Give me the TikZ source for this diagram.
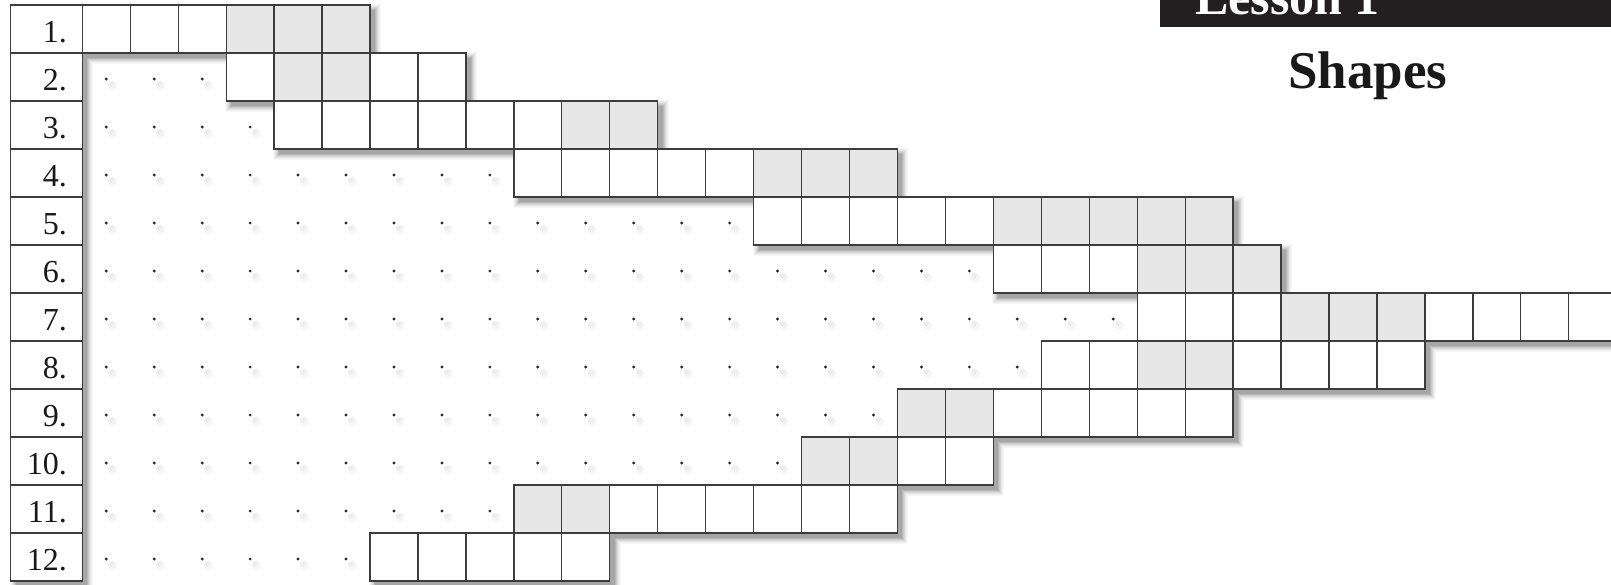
\documentclass[tikz,border=0pt]{standalone}
\usepackage{fontspec}
\setmainfont{Liberation Serif}
\definecolor{cellgray}{RGB}{230,231,230}
\definecolor{linegray}{RGB}{60,60,60}
\definecolor{bannerblack}{RGB}{35,31,32}
\tikzset{
  cellline/.style={draw=linegray, line width=1.3pt},
  lbl/.style={inner sep=0pt, font=\fontsize{32}{32}\selectfont, text=black!90},
  dotmark/.style={fill=black!85},
}
\newcommand{\cw}{47.95}
\newcommand{\rh}{48}
\begin{document}
\begin{tikzpicture}[x=1pt,y=-1pt]
\useasboundingbox (0,0) rectangle (1611,584);
\clip (0,0) rectangle (1611,584);
% shadows
\foreach \k/\c in {6/3,5/6,4/10,3/15,2/21,1/28,0/35} {
  \fill[black!\c] ({10.7-\k+5},{5-\k+5}) rectangle ({82.3+\k+5},{581+\k+5});
  \foreach \r/\a/\b in {1/0/5,2/3/7,3/4/11,4/9/16,5/14/23,6/19/24,7/22/33,8/20/27,9/17/23,10/15/18,11/9/16,12/6/10}
    \fill[black!\c] ({82.3+\cw*\a-\k+5},{5+\rh*(\r-1)-\k+5}) rectangle ({82.3+\cw*(\b+1)+\k+5},{5+\rh*\r+\k+5});
}
% dots
\foreach \r/\a in {2/3,3/4,4/9,5/14,6/19,7/22,8/20,9/17,10/15,11/9,12/6} {
  \pgfmathtruncatemacro{\last}{\a-1}
  \foreach \c in {0,...,\last} {
    \fill[black!4] ({82.3+\cw*(\c+0.5)+6},{5+\rh*(\r-1)+26+6}) circle (4.5);
    \fill[black!7] ({82.3+\cw*(\c+0.5)+5},{5+\rh*(\r-1)+26+5}) circle (2.5);
    \fill[dotmark] ({82.3+\cw*(\c+0.5)},{5+\rh*(\r-1)+26}) circle (1.6);
  }
}
% label column
\foreach \r in {1,...,12} {
  \draw[cellline, fill=white] (10.7,{5+\rh*(\r-1)}) rectangle (82.3,{5+\rh*\r});
  \node[lbl, anchor=base east] (l\r) at (67,{5+\rh*(\r-1)+37}) {\r.};
}
% cell fills
\foreach \r/\a/\b in {1/0/5,2/3/7,3/4/11,4/9/16,5/14/23,6/19/24,7/22/33,8/20/27,9/17/23,10/15/18,11/9/16,12/6/10}
  \fill[white] ({82.3+\cw*\a},{5+\rh*(\r-1)}) rectangle ({82.3+\cw*(\b+1)},{5+\rh*\r});
\foreach \r/\a/\b in {1/3/5,2/4/5,3/10/11,4/14/16,5/19/23,6/22/24,7/25/27,8/22/23,9/17/18,10/15/16,11/9/10}
  \fill[cellgray] ({82.3+\cw*\a},{5+\rh*(\r-1)}) rectangle ({82.3+\cw*(\b+1)},{5+\rh*\r});
% cell borders
\foreach \r/\a/\b in {1/0/5,2/3/7,3/4/11,4/9/16,5/14/23,6/19/24,7/22/33,8/20/27,9/17/23,10/15/18,11/9/16,12/6/10}
  \foreach \c in {\a,...,\b}
    \draw[cellline] ({82.3+\cw*\c},{5+\rh*(\r-1)}) rectangle ({82.3+\cw*(\c+1)},{5+\rh*\r});
% banner
\fill[bannerblack] (1160,-20) rectangle (1625,27.3);
\node[inner sep=0pt, anchor=base west, text=white, font=\bfseries\fontsize{50}{50}\selectfont] (lesson) at (1195,14.5) {Lesson 1};
\node[inner sep=0pt, anchor=base west, text=black!90, font=\bfseries\fontsize{53}{53}\selectfont] (title) at (1288,88) {Shapes};
\end{tikzpicture}
\end{document}
